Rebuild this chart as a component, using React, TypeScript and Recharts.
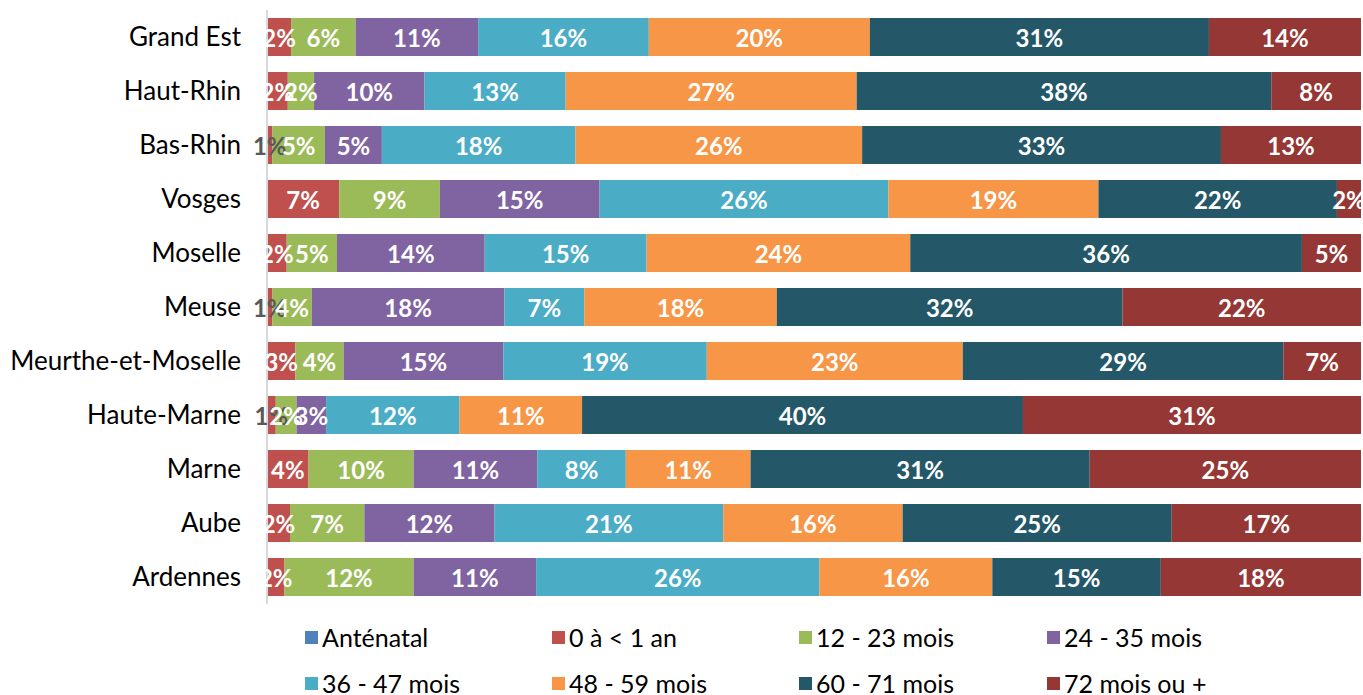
import { BarChart, Bar, XAxis, YAxis, LabelList, Legend } from "recharts";

const departements = [
  "Grand Est",
  "Haut-Rhin",
  "Bas-Rhin",
  "Vosges",
  "Moselle",
  "Meuse",
  "Meurthe-et-Moselle",
  "Haute-Marne",
  "Marne",
  "Aube",
  "Ardennes",
];

const antenatal = [0, 0, 0, 0, 0, 0, 0, 0, 0, 0, 0];
const moins1an = [2.2, 1.9, 0.5, 6.6, 1.8, 0.5, 2.6, 0.8, 3.8, 2.1, 1.6];
const mois12_23 = [5.9, 2.4, 4.8, 9.2, 4.6, 3.6, 4.4, 1.9, 9.6, 6.8, 11.8];
const mois24_35 = [11.2, 10.1, 5.2, 14.6, 13.5, 17.6, 14.6, 2.7, 11.3, 11.9, 11.2];
const mois36_47 = [15.6, 12.9, 17.7, 26.4, 14.8, 7.3, 18.6, 12.2, 8.1, 20.9, 25.9];
const mois48_59 = [20.2, 26.6, 26.2, 19.2, 24.1, 17.6, 23.4, 11.2, 11.4, 16.4, 15.8];
const mois60_71 = [31.0, 37.9, 32.8, 21.8, 35.8, 31.6, 29.3, 40.3, 31.0, 24.6, 15.4];
const mois72plus = [13.9, 8.2, 12.8, 2.2, 5.4, 21.8, 7.1, 30.9, 24.8, 17.3, 18.3];

const series = [
  { key: "antenatal", name: "Anténatal", color: "#4F81BD", values: antenatal },
  { key: "m0", name: "0 à < 1 an", color: "#C0504D", values: moins1an },
  { key: "m12", name: "12 - 23 mois", color: "#9BBB59", values: mois12_23 },
  { key: "m24", name: "24 - 35 mois", color: "#8064A2", values: mois24_35 },
  { key: "m36", name: "36 - 47 mois", color: "#4BACC6", values: mois36_47 },
  { key: "m48", name: "48 - 59 mois", color: "#F79646", values: mois48_59 },
  { key: "m60", name: "60 - 71 mois", color: "#245868", values: mois60_71 },
  { key: "m72", name: "72 mois ou +", color: "#953735", values: mois72plus },
];

const data = departements.map((d, i) => {
  const row: Record<string, string | number> = { name: d };
  series.forEach((s) => {
    row[s.key] = s.values[i];
  });
  return row;
});

const FONT = "Lato, 'Open Sans', sans-serif";

function SegmentLabel(props: any) {
  const { x, y, width, height, value } = props;
  if (value == null || value <= 0) return null;
  // tiny slices get a grey label, as in the original
  const small = value < 1;
  return (
    <text
      x={x + width / 2}
      y={y + height / 2}
      textAnchor="middle"
      dominantBaseline="central"
      fill={small ? "#595959" : "#FFFFFF"}
      fontFamily={FONT}
      fontWeight="bold"
      fontSize={24}
    >
      {Math.round(value) + "%"}
    </text>
  );
}

function LegendBox() {
  return (
    <div
      style={{
        display: "grid",
        gridTemplateColumns: "247px 247px 248px 247px",
        rowGap: 18,
        paddingLeft: 305,
        fontFamily: FONT,
        fontSize: 25,
        lineHeight: "28px",
        color: "#000",
      }}
    >
      {series.map((s) => (
        <div key={s.key} style={{ display: "flex", alignItems: "center", height: 28 }}>
          <span
            style={{
              display: "inline-block",
              width: 13,
              height: 13,
              background: s.color,
              marginRight: 4,
            }}
          />
          <span>{s.name}</span>
        </div>
      ))}
    </div>
  );
}

export default function App() {
  return (
    <div style={{ position: "absolute", left: 0, top: 0, width: 1363, height: 695, background: "#fff" }}>
      <BarChart
        width={1363}
        height={695}
        data={data}
        layout="vertical"
        margin={{ top: 10, right: 2, left: 0, bottom: 17 }}
        barSize={38}
      >
        <XAxis type="number" domain={[0, 100]} hide />
        <YAxis
          type="category"
          dataKey="name"
          width={267}
          axisLine={{ stroke: "#D9D9D9", strokeWidth: 2 }}
          tickLine={false}
          tickSize={6}
          tickMargin={20}
          tick={{ fill: "#000", fontSize: 26, fontFamily: FONT }}
          interval={0}
        />
        {series.map((s) => (
          <Bar
            key={s.key}
            dataKey={s.key}
            name={s.name}
            stackId="a"
            fill={s.color}
            isAnimationActive={false}
          >
            <LabelList dataKey={s.key} content={SegmentLabel} />
          </Bar>
        ))}
        <Legend
          content={LegendBox}
          wrapperStyle={{ left: 0, top: 623, width: 1363, height: 74 }}
        />
      </BarChart>
    </div>
  );
}
